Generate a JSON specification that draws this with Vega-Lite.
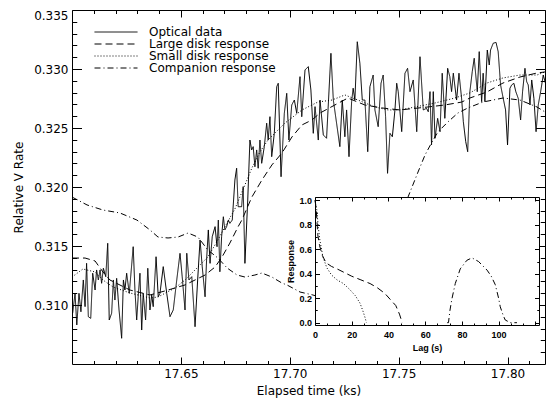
{
 "$schema": "https://vega.github.io/schema/vega-lite/v6.json",
 "width": 473,
 "height": 354,
 "autosize": {"type": "none"},
 "padding": {"left": 72, "top": 10, "right": 1, "bottom": 36},
 "background": "white",
 "config": {
  "view": {"stroke": null},
  "axis": {"grid": false, "domainColor": "black", "tickColor": "black", "labelColor": "black", "titleColor": "black", "domainWidth": 1, "tickWidth": 1, "labelFont": "DejaVu Sans", "titleFont": "DejaVu Sans", "titleFontWeight": "normal", "labelFontSize": 12, "titleFontSize": 12, "labelOverlap": false, "labelFlush": false, "minExtent": 0}
 },
 "datasets": {
  "curves": [
   {"s":"Optical data","t":17.6003,"v":0.30930},{"s":"Optical data","t":17.6014,"v":0.31099},{"s":"Optical data","t":17.6022,"v":0.30831},{"s":"Optical data","t":17.6032,"v":0.31099},{"s":"Optical data","t":17.6041,"v":0.30943},{"s":"Optical data","t":17.6052,"v":0.31212},{"s":"Optical data","t":17.6060,"v":0.30986},{"s":"Optical data","t":17.6067,"v":0.31353},{"s":"Optical data","t":17.6075,"v":0.30901},{"s":"Optical data","t":17.6086,"v":0.30887},
   {"s":"Optical data","t":17.6095,"v":0.31269},{"s":"Optical data","t":17.6106,"v":0.31127},{"s":"Optical data","t":17.6113,"v":0.31297},{"s":"Optical data","t":17.6121,"v":0.31212},{"s":"Optical data","t":17.6129,"v":0.31297},{"s":"Optical data","t":17.6136,"v":0.31184},{"s":"Optical data","t":17.6144,"v":0.31311},{"s":"Optical data","t":17.6155,"v":0.31240},{"s":"Optical data","t":17.6164,"v":0.31523},{"s":"Optical data","t":17.6171,"v":0.30873},
   {"s":"Optical data","t":17.6182,"v":0.30930},{"s":"Optical data","t":17.6190,"v":0.31212},{"s":"Optical data","t":17.6197,"v":0.31042},{"s":"Optical data","t":17.6205,"v":0.31226},{"s":"Optical data","t":17.6216,"v":0.30958},{"s":"Optical data","t":17.6228,"v":0.30718},{"s":"Optical data","t":17.6236,"v":0.31212},{"s":"Optical data","t":17.6243,"v":0.31127},{"s":"Optical data","t":17.6251,"v":0.31269},{"s":"Optical data","t":17.6263,"v":0.31099},
   {"s":"Optical data","t":17.6274,"v":0.31339},{"s":"Optical data","t":17.6281,"v":0.31494},{"s":"Optical data","t":17.6289,"v":0.31127},{"s":"Optical data","t":17.6297,"v":0.30873},{"s":"Optical data","t":17.6304,"v":0.31070},{"s":"Optical data","t":17.6312,"v":0.31269},{"s":"Optical data","t":17.6320,"v":0.30788},{"s":"Optical data","t":17.6327,"v":0.31099},{"s":"Optical data","t":17.6338,"v":0.30873},{"s":"Optical data","t":17.6348,"v":0.31311},
   {"s":"Optical data","t":17.6358,"v":0.30958},{"s":"Optical data","t":17.6366,"v":0.31085},{"s":"Optical data","t":17.6373,"v":0.30986},{"s":"Optical data","t":17.6386,"v":0.31409},{"s":"Optical data","t":17.6396,"v":0.31070},
   {"s":"Optical data","t":17.6404,"v":0.31099},{"s":"Optical data","t":17.6419,"v":0.31325},{"s":"Optical data","t":17.6435,"v":0.31099},{"s":"Optical data","t":17.6450,"v":0.30901},{"s":"Optical data","t":17.6465,"v":0.30958},{"s":"Optical data","t":17.6481,"v":0.31212},{"s":"Optical data","t":17.6496,"v":0.31438},{"s":"Optical data","t":17.6506,"v":0.31240},{"s":"Optical data","t":17.6519,"v":0.30958},{"s":"Optical data","t":17.6527,"v":0.31438},
   {"s":"Optical data","t":17.6537,"v":0.31212},{"s":"Optical data","t":17.6550,"v":0.31240},{"s":"Optical data","t":17.6565,"v":0.30816},{"s":"Optical data","t":17.6577,"v":0.31212},{"s":"Optical data","t":17.6588,"v":0.31551},{"s":"Optical data","t":17.6598,"v":0.31325},{"s":"Optical data","t":17.6611,"v":0.31070},{"s":"Optical data","t":17.6618,"v":0.31381},{"s":"Optical data","t":17.6626,"v":0.31636},{"s":"Optical data","t":17.6634,"v":0.31353},
   {"s":"Optical data","t":17.6644,"v":0.31579},{"s":"Optical data","t":17.6657,"v":0.31664},{"s":"Optical data","t":17.6666,"v":0.31494},{"s":"Optical data","t":17.6672,"v":0.31720},{"s":"Optical data","t":17.6679,"v":0.31282},{"s":"Optical data","t":17.6687,"v":0.31579},{"s":"Optical data","t":17.6695,"v":0.31748},{"s":"Optical data","t":17.6702,"v":0.31636},{"s":"Optical data","t":17.6710,"v":0.31664},{"s":"Optical data","t":17.6718,"v":0.31720},
   {"s":"Optical data","t":17.6725,"v":0.31692},{"s":"Optical data","t":17.6736,"v":0.31720},{"s":"Optical data","t":17.6748,"v":0.32059},{"s":"Optical data","t":17.6756,"v":0.32159},{"s":"Optical data","t":17.6763,"v":0.31833},
   {"s":"Optical data","t":17.6779,"v":0.31833},{"s":"Optical data","t":17.6786,"v":0.32003},{"s":"Optical data","t":17.6794,"v":0.31353},{"s":"Optical data","t":17.6807,"v":0.31890},{"s":"Optical data","t":17.6817,"v":0.32398},{"s":"Optical data","t":17.6825,"v":0.32314},{"s":"Optical data","t":17.6832,"v":0.32342},{"s":"Optical data","t":17.6840,"v":0.32172},{"s":"Optical data","t":17.6848,"v":0.32314},{"s":"Optical data","t":17.6855,"v":0.32159},
   {"s":"Optical data","t":17.6863,"v":0.32398},{"s":"Optical data","t":17.6871,"v":0.32201},{"s":"Optical data","t":17.6883,"v":0.32342},{"s":"Optical data","t":17.6894,"v":0.32540},{"s":"Optical data","t":17.6901,"v":0.32398},{"s":"Optical data","t":17.6909,"v":0.32596},{"s":"Optical data","t":17.6917,"v":0.32257},{"s":"Optical data","t":17.6929,"v":0.32455},{"s":"Optical data","t":17.6940,"v":0.32850},{"s":"Optical data","t":17.6947,"v":0.32879},
   {"s":"Optical data","t":17.6960,"v":0.32087},{"s":"Optical data","t":17.6975,"v":0.32625},{"s":"Optical data","t":17.6986,"v":0.32794},{"s":"Optical data","t":17.6996,"v":0.32398},{"s":"Optical data","t":17.7009,"v":0.32695},{"s":"Optical data","t":17.7021,"v":0.32737},{"s":"Optical data","t":17.7032,"v":0.32625},{"s":"Optical data","t":17.7047,"v":0.32935},{"s":"Optical data","t":17.7055,"v":0.32596},{"s":"Optical data","t":17.7070,"v":0.32992},
   {"s":"Optical data","t":17.7085,"v":0.33020},{"s":"Optical data","t":17.7097,"v":0.32822},{"s":"Optical data","t":17.7108,"v":0.32455},{"s":"Optical data","t":17.7116,"v":0.32681},{"s":"Optical data","t":17.7131,"v":0.32398},
   {"s":"Optical data","t":17.7139,"v":0.32737},{"s":"Optical data","t":17.7154,"v":0.32441},{"s":"Optical data","t":17.7169,"v":0.32413},{"s":"Optical data","t":17.7189,"v":0.33133},{"s":"Optical data","t":17.7200,"v":0.32737},{"s":"Optical data","t":17.7215,"v":0.32540},{"s":"Optical data","t":17.7230,"v":0.32342},{"s":"Optical data","t":17.7241,"v":0.32737},{"s":"Optical data","t":17.7253,"v":0.32426},{"s":"Optical data","t":17.7261,"v":0.32653},
   {"s":"Optical data","t":17.7272,"v":0.32257},{"s":"Optical data","t":17.7284,"v":0.32723},{"s":"Optical data","t":17.7291,"v":0.32837},{"s":"Optical data","t":17.7299,"v":0.32737},{"s":"Optical data","t":17.7310,"v":0.33231},{"s":"Optical data","t":17.7322,"v":0.33048},{"s":"Optical data","t":17.7333,"v":0.32737},{"s":"Optical data","t":17.7345,"v":0.32737},{"s":"Optical data","t":17.7358,"v":0.32299},{"s":"Optical data","t":17.7368,"v":0.32850},
   {"s":"Optical data","t":17.7383,"v":0.32949},{"s":"Optical data","t":17.7391,"v":0.32653},{"s":"Optical data","t":17.7406,"v":0.32511},{"s":"Optical data","t":17.7419,"v":0.32879},{"s":"Optical data","t":17.7429,"v":0.32949},{"s":"Optical data","t":17.7440,"v":0.32596},{"s":"Optical data","t":17.7449,"v":0.32116},{"s":"Optical data","t":17.7460,"v":0.32455},{"s":"Optical data","t":17.7471,"v":0.32426},{"s":"Optical data","t":17.7483,"v":0.32653},
   {"s":"Optical data","t":17.7491,"v":0.32879},
   {"s":"Optical data","t":17.7498,"v":0.32808},{"s":"Optical data","t":17.7514,"v":0.32469},{"s":"Optical data","t":17.7529,"v":0.32964},{"s":"Optical data","t":17.7541,"v":0.33006},{"s":"Optical data","t":17.7552,"v":0.32808},{"s":"Optical data","t":17.7567,"v":0.32907},{"s":"Optical data","t":17.7583,"v":0.32469},{"s":"Optical data","t":17.7598,"v":0.33104},{"s":"Optical data","t":17.7613,"v":0.32653},{"s":"Optical data","t":17.7628,"v":0.32667},
   {"s":"Optical data","t":17.7636,"v":0.32638},{"s":"Optical data","t":17.7644,"v":0.32808},{"s":"Optical data","t":17.7651,"v":0.32356},{"s":"Optical data","t":17.7659,"v":0.32808},{"s":"Optical data","t":17.7667,"v":0.32413},{"s":"Optical data","t":17.7679,"v":0.32582},{"s":"Optical data","t":17.7690,"v":0.32469},{"s":"Optical data","t":17.7700,"v":0.32964},{"s":"Optical data","t":17.7712,"v":0.32582},{"s":"Optical data","t":17.7725,"v":0.33006},
   {"s":"Optical data","t":17.7735,"v":0.32935},{"s":"Optical data","t":17.7743,"v":0.32808},{"s":"Optical data","t":17.7751,"v":0.32964},{"s":"Optical data","t":17.7766,"v":0.32737},{"s":"Optical data","t":17.7777,"v":0.32964},{"s":"Optical data","t":17.7789,"v":0.32752},{"s":"Optical data","t":17.7797,"v":0.32553},{"s":"Optical data","t":17.7808,"v":0.32384},{"s":"Optical data","t":17.7817,"v":0.32299},{"s":"Optical data","t":17.7827,"v":0.32808},
   {"s":"Optical data","t":17.7838,"v":0.32978},{"s":"Optical data","t":17.7847,"v":0.33091},
   {"s":"Optical data","t":17.7861,"v":0.32808},{"s":"Optical data","t":17.7870,"v":0.33147},{"s":"Optical data","t":17.7881,"v":0.32723},{"s":"Optical data","t":17.7888,"v":0.32964},{"s":"Optical data","t":17.7896,"v":0.32723},{"s":"Optical data","t":17.7907,"v":0.33161},{"s":"Optical data","t":17.7916,"v":0.33034},{"s":"Optical data","t":17.7922,"v":0.33161},{"s":"Optical data","t":17.7934,"v":0.33218},{"s":"Optical data","t":17.7947,"v":0.33226},
   {"s":"Optical data","t":17.7957,"v":0.33147},{"s":"Optical data","t":17.7968,"v":0.32865},{"s":"Optical data","t":17.7980,"v":0.32752},{"s":"Optical data","t":17.7991,"v":0.32653},{"s":"Optical data","t":17.8000,"v":0.32356},{"s":"Optical data","t":17.8011,"v":0.32837},{"s":"Optical data","t":17.8019,"v":0.32865},{"s":"Optical data","t":17.8029,"v":0.32879},{"s":"Optical data","t":17.8038,"v":0.32808},{"s":"Optical data","t":17.8049,"v":0.32752},
   {"s":"Optical data","t":17.8060,"v":0.32568},{"s":"Optical data","t":17.8069,"v":0.32808},{"s":"Optical data","t":17.8080,"v":0.33006},{"s":"Optical data","t":17.8088,"v":0.32892},{"s":"Optical data","t":17.8095,"v":0.32865},{"s":"Optical data","t":17.8103,"v":0.32695},{"s":"Optical data","t":17.8111,"v":0.32907},{"s":"Optical data","t":17.8121,"v":0.32752},{"s":"Optical data","t":17.8131,"v":0.32469},{"s":"Optical data","t":17.8141,"v":0.32695},
   {"s":"Optical data","t":17.8152,"v":0.32808},{"s":"Optical data","t":17.8164,"v":0.32949},{"s":"Optical data","t":17.8176,"v":0.32865},

   {"s":"Large disk response","t":17.6000,"v":0.31398},{"s":"Large disk response","t":17.6060,"v":0.31398},{"s":"Large disk response","t":17.6106,"v":0.31373},{"s":"Large disk response","t":17.6142,"v":0.31280},{"s":"Large disk response","t":17.6174,"v":0.31212},{"s":"Large disk response","t":17.6266,"v":0.31127},{"s":"Large disk response","t":17.6358,"v":0.31085},{"s":"Large disk response","t":17.6427,"v":0.31119},{"s":"Large disk response","t":17.6519,"v":0.31170},{"s":"Large disk response","t":17.6611,"v":0.31254},
   {"s":"Large disk response","t":17.6657,"v":0.31322},{"s":"Large disk response","t":17.6689,"v":0.31407},{"s":"Large disk response","t":17.6725,"v":0.31525},{"s":"Large disk response","t":17.6762,"v":0.31661},{"s":"Large disk response","t":17.6780,"v":0.31720},{"s":"Large disk response","t":17.6826,"v":0.31915},{"s":"Large disk response","t":17.6872,"v":0.32059},{"s":"Large disk response","t":17.6918,"v":0.32187},{"s":"Large disk response","t":17.6964,"v":0.32288},{"s":"Large disk response","t":17.7010,"v":0.32424},
   {"s":"Large disk response","t":17.7056,"v":0.32526},{"s":"Large disk response","t":17.7102,"v":0.32568},{"s":"Large disk response","t":17.7139,"v":0.32627},{"s":"Large disk response","t":17.7207,"v":0.32695},{"s":"Large disk response","t":17.7267,"v":0.32754},{"s":"Large disk response","t":17.7345,"v":0.32695},{"s":"Large disk response","t":17.7423,"v":0.32670},{"s":"Large disk response","t":17.7506,"v":0.32653},{"s":"Large disk response","t":17.7634,"v":0.32678},{"s":"Large disk response","t":17.7712,"v":0.32695},
   {"s":"Large disk response","t":17.7790,"v":0.32720},{"s":"Large disk response","t":17.7827,"v":0.32754},{"s":"Large disk response","t":17.7905,"v":0.32805},{"s":"Large disk response","t":17.7979,"v":0.32881},{"s":"Large disk response","t":17.8057,"v":0.32932},{"s":"Large disk response","t":17.8135,"v":0.32966},{"s":"Large disk response","t":17.8172,"v":0.32975},

   {"s":"Small disk response","t":17.6000,"v":0.31237},{"s":"Small disk response","t":17.6050,"v":0.31305},{"s":"Small disk response","t":17.6106,"v":0.31280},{"s":"Small disk response","t":17.6142,"v":0.31212},{"s":"Small disk response","t":17.6188,"v":0.31153},{"s":"Small disk response","t":17.6266,"v":0.31102},{"s":"Small disk response","t":17.6358,"v":0.31059},{"s":"Small disk response","t":17.6395,"v":0.31068},{"s":"Small disk response","t":17.6473,"v":0.31144},{"s":"Small disk response","t":17.6519,"v":0.31212},
   {"s":"Small disk response","t":17.6565,"v":0.31297},{"s":"Small disk response","t":17.6624,"v":0.31407},{"s":"Small disk response","t":17.6670,"v":0.31551},{"s":"Small disk response","t":17.6712,"v":0.31695},{"s":"Small disk response","t":17.6748,"v":0.31814},{"s":"Small disk response","t":17.6794,"v":0.32017},{"s":"Small disk response","t":17.6826,"v":0.32161},{"s":"Small disk response","t":17.6863,"v":0.32297},{"s":"Small disk response","t":17.6900,"v":0.32398},{"s":"Small disk response","t":17.6978,"v":0.32542},
   {"s":"Small disk response","t":17.7056,"v":0.32653},{"s":"Small disk response","t":17.7129,"v":0.32720},{"s":"Small disk response","t":17.7194,"v":0.32737},{"s":"Small disk response","t":17.7253,"v":0.32780},{"s":"Small disk response","t":17.7313,"v":0.32737},{"s":"Small disk response","t":17.7391,"v":0.32678},{"s":"Small disk response","t":17.7451,"v":0.32653},{"s":"Small disk response","t":17.7506,"v":0.32653},{"s":"Small disk response","t":17.7575,"v":0.32678},{"s":"Small disk response","t":17.7667,"v":0.32712},
   {"s":"Small disk response","t":17.7758,"v":0.32754},{"s":"Small disk response","t":17.7827,"v":0.32797},{"s":"Small disk response","t":17.7905,"v":0.32881},{"s":"Small disk response","t":17.7979,"v":0.32924},{"s":"Small disk response","t":17.8057,"v":0.32949},{"s":"Small disk response","t":17.8135,"v":0.32949},{"s":"Small disk response","t":17.8172,"v":0.32975},

   {"s":"Companion response","t":17.6000,"v":0.31915},{"s":"Companion response","t":17.6069,"v":0.31848},{"s":"Companion response","t":17.6142,"v":0.31805},{"s":"Companion response","t":17.6220,"v":0.31780},{"s":"Companion response","t":17.6298,"v":0.31720},{"s":"Companion response","t":17.6358,"v":0.31636},{"s":"Companion response","t":17.6395,"v":0.31576},{"s":"Companion response","t":17.6441,"v":0.31568},{"s":"Companion response","t":17.6487,"v":0.31576},{"s":"Companion response","t":17.6533,"v":0.31610},
   {"s":"Companion response","t":17.6578,"v":0.31576},{"s":"Companion response","t":17.6624,"v":0.31466},{"s":"Companion response","t":17.6670,"v":0.31398},{"s":"Companion response","t":17.6712,"v":0.31314},{"s":"Companion response","t":17.6758,"v":0.31254},{"s":"Companion response","t":17.6794,"v":0.31237},{"s":"Companion response","t":17.6840,"v":0.31254},{"s":"Companion response","t":17.6872,"v":0.31271},{"s":"Companion response","t":17.6918,"v":0.31237},{"s":"Companion response","t":17.6964,"v":0.31186},
   {"s":"Companion response","t":17.6987,"v":0.31170},{"s":"Companion response","t":17.7047,"v":0.31110},{"s":"Companion response","t":17.7106,"v":0.31085},{"s":"Companion response","t":17.7184,"v":0.31042},{"s":"Companion response","t":17.7276,"v":0.31068},{"s":"Companion response","t":17.7368,"v":0.31212},{"s":"Companion response","t":17.7460,"v":0.31551},{"s":"Companion response","t":17.7543,"v":0.31915},{"s":"Companion response","t":17.7589,"v":0.32127},{"s":"Companion response","t":17.7621,"v":0.32271},
   {"s":"Companion response","t":17.7653,"v":0.32381},{"s":"Companion response","t":17.7680,"v":0.32466},{"s":"Companion response","t":17.7726,"v":0.32551},{"s":"Companion response","t":17.7772,"v":0.32627},{"s":"Companion response","t":17.7818,"v":0.32670},{"s":"Companion response","t":17.7887,"v":0.32720},{"s":"Companion response","t":17.7979,"v":0.32754},{"s":"Companion response","t":17.8057,"v":0.32737},{"s":"Companion response","t":17.8135,"v":0.32678},{"s":"Companion response","t":17.8172,"v":0.32636}
  ],
  "inset": [
   {"s":"Large disk response","lag":0,"resp":1.0},{"s":"Large disk response","lag":0.5,"resp":0.95},{"s":"Large disk response","lag":1,"resp":0.85},{"s":"Large disk response","lag":1.5,"resp":0.72},{"s":"Large disk response","lag":2.5,"resp":0.63},{"s":"Large disk response","lag":4,"resp":0.55},{"s":"Large disk response","lag":6,"resp":0.49},{"s":"Large disk response","lag":9,"resp":0.46},{"s":"Large disk response","lag":12,"resp":0.44},{"s":"Large disk response","lag":16,"resp":0.41},
   {"s":"Large disk response","lag":20,"resp":0.38},{"s":"Large disk response","lag":25,"resp":0.35},{"s":"Large disk response","lag":30,"resp":0.32},{"s":"Large disk response","lag":34,"resp":0.285},{"s":"Large disk response","lag":38,"resp":0.24},{"s":"Large disk response","lag":41,"resp":0.19},{"s":"Large disk response","lag":44,"resp":0.14},{"s":"Large disk response","lag":46,"resp":0.07},{"s":"Large disk response","lag":47.5,"resp":0.0},
   {"s":"Small disk response","lag":0,"resp":1.0},{"s":"Small disk response","lag":1,"resp":0.92},{"s":"Small disk response","lag":1.8,"resp":0.78},{"s":"Small disk response","lag":2.7,"resp":0.67},{"s":"Small disk response","lag":4.3,"resp":0.54},{"s":"Small disk response","lag":6.4,"resp":0.45},{"s":"Small disk response","lag":9,"resp":0.39},{"s":"Small disk response","lag":12,"resp":0.35},{"s":"Small disk response","lag":15.5,"resp":0.32},{"s":"Small disk response","lag":19,"resp":0.27},
   {"s":"Small disk response","lag":22,"resp":0.22},{"s":"Small disk response","lag":24.5,"resp":0.16},{"s":"Small disk response","lag":26,"resp":0.10},{"s":"Small disk response","lag":27.3,"resp":0.04},{"s":"Small disk response","lag":28,"resp":0.0},
   {"s":"Companion response","lag":72,"resp":0.0},{"s":"Companion response","lag":72.7,"resp":0.0},{"s":"Companion response","lag":73.5,"resp":0.1},{"s":"Companion response","lag":74.5,"resp":0.19},{"s":"Companion response","lag":76.4,"resp":0.32},{"s":"Companion response","lag":79.1,"resp":0.44},{"s":"Companion response","lag":82.7,"resp":0.51},{"s":"Companion response","lag":85.5,"resp":0.53},{"s":"Companion response","lag":89.1,"resp":0.5},{"s":"Companion response","lag":93.7,"resp":0.43},
   {"s":"Companion response","lag":96,"resp":0.38},{"s":"Companion response","lag":98.2,"resp":0.31},{"s":"Companion response","lag":100,"resp":0.2},{"s":"Companion response","lag":100.9,"resp":0.13},{"s":"Companion response","lag":102.5,"resp":0.06},{"s":"Companion response","lag":103.6,"resp":0.022},{"s":"Companion response","lag":106.4,"resp":0.0},{"s":"Companion response","lag":110,"resp":0.0}
  ]
 },
 "layer": [
  {
   "data": {"name": "curves"},
   "layer": [
    {
     "transform": [{"filter": "datum.s === 'Optical data'"}],
     "mark": {"type": "line", "color": "black", "strokeWidth": 1, "clip": true},
     "encoding": {
      "x": {"field": "t", "type": "quantitative", "scale": {"domain": [17.6, 17.8172], "nice": false, "zero": false},
       "axis": {"orient": "bottom", "zindex": 0, "title": "Elapsed time (ks)", "values": [17.61,17.62,17.63,17.64,17.65,17.66,17.67,17.68,17.69,17.7,17.71,17.72,17.73,17.74,17.75,17.76,17.77,17.78,17.79,17.8,17.81],
        "tickSize": {"condition": {"test": "abs(datum.value*20-round(datum.value*20))<0.01", "value": -7}, "value": -3.5},
        "labelExpr": "abs(datum.value*20-round(datum.value*20))<0.01 ? format(datum.value,'.2f') : ''",
        "labelPadding": 11, "titlePadding": 3}},
      "y": {"field": "v", "type": "quantitative", "scale": {"domain": [0.305, 0.335], "nice": false, "zero": false},
       "axis": {"orient": "left", "zindex": 0, "title": "Relative V Rate", "values": [0.306,0.307,0.308,0.309,0.31,0.311,0.312,0.313,0.314,0.315,0.316,0.317,0.318,0.319,0.32,0.321,0.322,0.323,0.324,0.325,0.326,0.327,0.328,0.329,0.33,0.331,0.332,0.333,0.334,0.335],
        "tickSize": {"condition": {"test": "abs(datum.value*200-round(datum.value*200))<0.01", "value": -9.5}, "value": -4.75},
        "labelExpr": "abs(datum.value*200-round(datum.value*200))<0.01 ? format(datum.value,'.3f') : ''",
        "labelPadding": 13.5, "labelFlush": 1, "titlePadding": 8}},
      "strokeDash": {"field": "s", "type": "nominal",
       "scale": {"domain": ["Optical data", "Large disk response", "Small disk response", "Companion response"], "range": [[1, 0], [7, 4], [1, 2], [6, 3, 1, 3]]},
       "legend": {"orient": "none", "legendX": 22, "legendY": 17, "title": null, "symbolType": "stroke", "symbolSize": 1849, "symbolStrokeWidth": 1, "symbolStrokeColor": "black", "labelFont": "DejaVu Sans", "labelFontSize": 12, "labelColor": "black", "labelOffset": 11, "clipHeight": 10, "rowPadding": 0, "padding": 0}}
     }
    },
    {
     "transform": [{"filter": "datum.s !== 'Optical data'"}],
     "mark": {"type": "line", "color": "black", "strokeWidth": 1, "clip": true},
     "encoding": {
      "x": {"field": "t", "type": "quantitative",
       "axis": {"orient": "top", "zindex": 0, "title": null, "labels": false, "values": [17.61,17.62,17.63,17.64,17.65,17.66,17.67,17.68,17.69,17.7,17.71,17.72,17.73,17.74,17.75,17.76,17.77,17.78,17.79,17.8,17.81],
        "tickSize": {"condition": {"test": "abs(datum.value*20-round(datum.value*20))<0.01", "value": -7}, "value": -3.5}}},
      "y": {"field": "v", "type": "quantitative",
       "axis": {"orient": "right", "zindex": 0, "title": null, "labels": false, "values": [0.306,0.307,0.308,0.309,0.31,0.311,0.312,0.313,0.314,0.315,0.316,0.317,0.318,0.319,0.32,0.321,0.322,0.323,0.324,0.325,0.326,0.327,0.328,0.329,0.33,0.331,0.332,0.333,0.334,0.335],
        "tickSize": {"condition": {"test": "abs(datum.value*200-round(datum.value*200))<0.01", "value": -9.5}, "value": -4.75}}},
      "strokeDash": {"field": "s", "type": "nominal"}
     }
    }
   ],
   "resolve": {"axis": {"x": "independent", "y": "independent"}}
  },
  {
   "layer": [
    {
     "data": {"values": [{}]},
     "mark": {"type": "rect", "fill": "white", "strokeWidth": 0},
     "encoding": {
      "x": {"datum": 0, "type": "quantitative", "scale": {"domain": [0, 122], "range": [243, 467], "nice": false, "zero": false},
       "axis": {"orient": "bottom", "zindex": 2, "offset": -39, "title": "Lag (s)", "values": [0,6.667,13.333,20,26.667,33.333,40,46.667,53.333,60,66.667,73.333,80,86.667,93.333,100,106.667,113.333,120],
        "tickSize": {"condition": {"test": "abs(datum.value/20-round(datum.value/20))<0.01", "value": -4}, "value": -2},
        "labelExpr": "abs(datum.value/20-round(datum.value/20))<0.01 && datum.value<101 ? format(datum.value,'.0f') : ''",
        "labelFont": "Liberation Sans", "labelFontWeight": "bold", "labelFontSize": 9, "titleFont": "Liberation Sans", "titleFontWeight": "bold", "titleFontSize": 9, "labelPadding": 9, "titlePadding": 2}},
      "x2": {"datum": 122},
      "y": {"datum": -0.019, "type": "quantitative", "scale": {"domain": [-0.019, 1.028], "range": [315, 187], "nice": false, "zero": false},
       "axis": {"orient": "left", "zindex": 2, "offset": -243, "title": "Response", "values": [0,0.1,0.2,0.3,0.4,0.5,0.6,0.7,0.8,0.9,1.0],
        "tickSize": {"condition": {"test": "abs(datum.value*5-round(datum.value*5))<0.01", "value": -4.5}, "value": -2.25},
        "labelExpr": "abs(datum.value*5-round(datum.value*5))<0.01 ? format(datum.value,'.1f') : ''",
        "labelFont": "Liberation Sans", "labelFontWeight": "bold", "labelFontSize": 9, "titleFont": "Liberation Sans", "titleFontWeight": "bold", "titleFontSize": 9, "labelPadding": 8, "titlePadding": 3}},
      "y2": {"datum": 1.028}
     }
    },
    {
     "data": {"name": "inset"},
     "mark": {"type": "line", "color": "black", "strokeWidth": 1},
     "encoding": {
      "x": {"field": "lag", "type": "quantitative",
       "axis": {"orient": "top", "zindex": 2, "offset": -187, "title": null, "labels": false, "values": [0,6.667,13.333,20,26.667,33.333,40,46.667,53.333,60,66.667,73.333,80,86.667,93.333,100,106.667,113.333,120],
        "tickSize": {"condition": {"test": "abs(datum.value/20-round(datum.value/20))<0.01", "value": -4}, "value": -2}}},
      "y": {"field": "resp", "type": "quantitative",
       "axis": {"orient": "right", "zindex": 2, "offset": -6, "title": null, "labels": false, "values": [0,0.1,0.2,0.3,0.4,0.5,0.6,0.7,0.8,0.9,1.0],
        "tickSize": {"condition": {"test": "abs(datum.value*5-round(datum.value*5))<0.01", "value": -4.5}, "value": -2.25}}},
      "strokeDash": {"field": "s", "type": "nominal"}
     }
    }
   ],
   "resolve": {"axis": {"x": "independent", "y": "independent"}}
  }
 ],
 "resolve": {"scale": {"x": "independent", "y": "independent"}, "axis": {"x": "independent", "y": "independent"}}
}
